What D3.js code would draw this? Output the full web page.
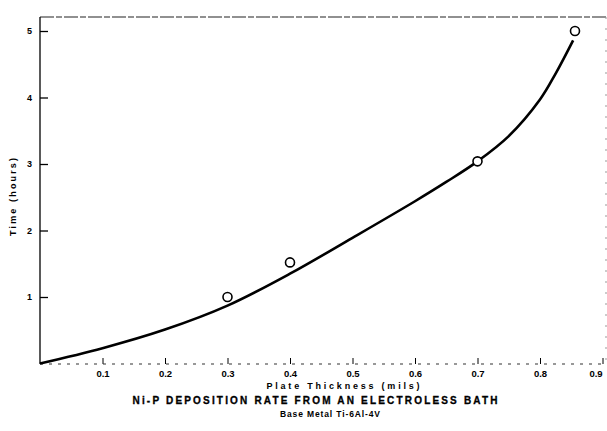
<!DOCTYPE html>
<html>
<head>
<meta charset="utf-8">
<script src="https://cdn.jsdelivr.net/npm/d3@7/dist/d3.min.js"></script>
<style>
  body { margin: 0; background: #fff; }
  text { font-family: "Liberation Sans", Arial, sans-serif; font-weight: bold; fill: #000; }
</style>
</head>
<body>
<div id="chart"></div>
<script>
// curve (plate thickness in mils, time in hours)
var curveX = [0, 0.1, 0.2, 0.3, 0.4, 0.5, 0.6, 0.65, 0.7, 0.75, 0.8, 0.825, 0.853];
var curveY = [0, 0.23, 0.51, 0.87, 1.35, 1.89, 2.44, 2.73, 3.04, 3.42, 3.97, 4.36, 4.86];

// measured points (open circles)
var ptX = [0.3, 0.4, 0.70, 0.856];
var ptY = [1.0, 1.52, 3.04, 5.0];

var xTicks = [0.1, 0.2, 0.3, 0.4, 0.5, 0.6, 0.7, 0.8, 0.9];
var yTicks = [1, 2, 3, 4, 5];

var W = 607, H = 431;

var svg = d3.select("#chart").append("svg")
  .attr("width", W)
  .attr("height", H);

var x = d3.scaleLinear().domain([0, 0.9]).range([40, 602.5]);
var y = d3.scaleLinear().domain([0, 5]).range([363.5, 31]);

// frame: top and right edges are faint in the scan
svg.append("line")
  .attr("x1", 40).attr("x2", 606).attr("y1", 17).attr("y2", 17)
  .attr("stroke", "#222").attr("stroke-width", 1.2)
  .attr("stroke-dasharray", "14,2,6,2");
svg.append("line")
  .attr("x1", 606).attr("x2", 606).attr("y1", 17).attr("y2", 364)
  .attr("stroke", "#999").attr("stroke-width", 1)
  .attr("stroke-dasharray", "2,9");

// left axis
var yAxis = d3.axisLeft(y)
  .tickValues(yTicks)
  .tickFormat(d3.format("d"))
  .tickSize(-8)
  .tickPadding(8);
var gy = svg.append("g")
  .attr("transform", "translate(40,0)")
  .call(yAxis);
gy.select(".domain").remove();
gy.selectAll(".tick line").attr("stroke", "#000").attr("stroke-width", 1.3);
gy.selectAll(".tick text").style("font-size", "9px");
svg.append("line")
  .attr("x1", 40).attr("x2", 40).attr("y1", 17).attr("y2", 364)
  .attr("stroke", "#000").attr("stroke-width", 1.3);

// bottom axis
var xAxis = d3.axisBottom(x)
  .tickValues(xTicks)
  .tickFormat(d3.format(".1f"))
  .tickSize(-6)
  .tickPadding(6);
var gx = svg.append("g")
  .attr("transform", "translate(0,364)")
  .call(xAxis);
gx.select(".domain").remove();
gx.selectAll(".tick line").attr("stroke", "#000").attr("stroke-width", 1);
gx.selectAll(".tick text")
  .style("font-size", "9.5px")
  .attr("dx", function(d) { return d === 0.9 ? -7 : 0; });
svg.append("line")
  .attr("x1", 40).attr("x2", 606).attr("y1", 364).attr("y2", 364)
  .attr("stroke", "#333").attr("stroke-width", 1.2)
  .attr("stroke-dasharray", "3,6");

// curve
var curve = curveX.map(function(d, i) { return [d, curveY[i]]; });
var line = d3.line()
  .x(function(d) { return x(d[0]); })
  .y(function(d) { return y(d[1]); })
  .curve(d3.curveCatmullRom.alpha(0.5));
svg.append("path")
  .datum(curve)
  .attr("d", line)
  .attr("fill", "none")
  .attr("stroke", "#000")
  .attr("stroke-width", 2.6);

// points
var pts = ptX.map(function(d, i) { return [d, ptY[i]]; });
svg.selectAll("circle.pt")
  .data(pts)
  .enter().append("circle")
  .attr("class", "pt")
  .attr("cx", function(d) { return x(d[0]); })
  .attr("cy", function(d) { return y(d[1]); })
  .attr("r", 4.5)
  .attr("fill", "#fff")
  .attr("stroke", "#000")
  .attr("stroke-width", 1.6);

// labels
svg.append("text")
  .attr("transform", "translate(16,197) rotate(-90)")
  .attr("text-anchor", "middle")
  .attr("textLength", 78)
  .style("font-size", "9px")
  .text("Time (hours)");

svg.append("text")
  .attr("x", 343).attr("y", 389)
  .attr("text-anchor", "middle")
  .attr("textLength", 153)
  .style("font-size", "9px")
  .text("Plate Thickness (mils)");

svg.append("text")
  .attr("x", 315).attr("y", 404)
  .attr("text-anchor", "middle")
  .attr("textLength", 365)
  .style("font-size", "10px")
  .style("stroke", "#000").style("stroke-width", 0.3)
  .text("Ni-P DEPOSITION RATE FROM AN ELECTROLESS BATH");

svg.append("text")
  .attr("x", 330).attr("y", 417)
  .attr("text-anchor", "middle")
  .attr("textLength", 100)
  .style("font-size", "8.5px")
  .text("Base Metal Ti-6Al-4V");
</script>
</body>
</html>
